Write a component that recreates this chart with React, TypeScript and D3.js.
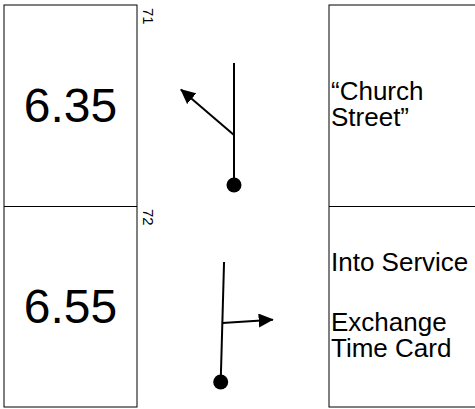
import React from "react";
import * as d3 from "d3";

// ---- data ----
const rowIds = ["71", "72"];
const times = ["6.35", "6.55"];
const notes: string[][] = [
  ["\u201CChurch", "Street\u201D"],
  ["Into Service", "", "Exchange", "Time Card"],
];
// signal arm direction (degrees, screen coords, 0 = right, negative = up)
const armAngles = [-139.4, -3.8];
const armLengths = [70, 50.7];
const armHeights = [50, 59]; // arm junction height above the post base
const postTilts = [0, 1.6]; // degrees, lean of the post to the right
const postLengths = [122, 120];

const W = 475;
const H = 409;
const FONT = "'Liberation Sans', Arial, Helvetica, sans-serif";

export default function App() {
  const y = d3.scaleBand<string>().domain(rowIds).range([5, 407]).padding(0);
  const bw = y.bandwidth();
  const leftBox = { x0: 4, x1: 137 };
  const rightBox = { x0: 329, x1: 480 };
  const postX = d3.scaleOrdinal<string, number>().domain(rowIds).range([234, 220.7]);
  const baseOffset = d3.scaleOrdinal<string, number>().domain(rowIds).range([180, 176]);

  const lineH = 26;
  const blankH = 60;
  const rad = Math.PI / 180;

  return (
    <svg
      width={W}
      height={H}
      style={{ position: "absolute", left: 0, top: 0, background: "#fff" }}
      fontFamily={FONT}
    >
      <defs>
        <marker
          id="arrow"
          viewBox="0 0 10 10"
          refX="9.5"
          refY="5"
          markerWidth="15"
          markerHeight="14"
          markerUnits="userSpaceOnUse"
          orient="auto"
          preserveAspectRatio="none"
        >
          <path d="M0,0 L10,5 L0,10 Z" fill="#000" />
        </marker>
      </defs>

      {/* boxes */}
      <rect
        x={leftBox.x0}
        y={y.range()[0]}
        width={leftBox.x1 - leftBox.x0}
        height={y.range()[1] - y.range()[0]}
        fill="none"
        stroke="#000"
        strokeWidth={1}
      />
      <rect
        x={rightBox.x0}
        y={y.range()[0]}
        width={rightBox.x1 - rightBox.x0}
        height={y.range()[1] - y.range()[0]}
        fill="none"
        stroke="#000"
        strokeWidth={1}
      />
      {rowIds.slice(1).map((id) => (
        <g key={"div" + id}>
          <line x1={leftBox.x0} x2={leftBox.x1} y1={y(id)! + 0.5} y2={y(id)! + 0.5} stroke="#000" />
          <line x1={rightBox.x0} x2={rightBox.x1} y1={y(id)! + 0.5} y2={y(id)! + 0.5} stroke="#000" />
        </g>
      ))}

      {rowIds.map((id, i) => {
        const top = y(id)!;
        const cy = top + bw / 2;
        const bx = postX(id);
        const by = top + baseOffset(id);
        const tilt = postTilts[i] * rad;
        const tx = bx + Math.sin(tilt) * postLengths[i];
        const ty = by - Math.cos(tilt) * postLengths[i];
        const jx = bx + Math.sin(tilt) * armHeights[i];
        const jy = by - Math.cos(tilt) * armHeights[i];
        const a = armAngles[i] * rad;
        const ax = jx + Math.cos(a) * armLengths[i];
        const ay = jy + Math.sin(a) * armLengths[i];
        const lines = notes[i];
        const offsets: number[] = [];
        let acc = 0;
        lines.forEach((t, k) => {
          if (k > 0) acc += t === "" || lines[k - 1] === "" ? blankH / 2 : lineH;
          offsets.push(acc);
        });
        const span = acc;
        const firstBase = cy + 7.5 - span / 2;
        return (
          <g key={id}>
            {/* time */}
            <text
              x={(leftBox.x0 + leftBox.x1) / 2}
              y={cy + 16.5}
              textAnchor="middle"
              fontSize={48}
              fill="#000"
            >
              {times[i]}
            </text>
            {/* row number, rotated */}
            <text
              transform={`translate(${leftBox.x1 + 6},${top + 3}) rotate(90)`}
              fontSize={15}
              fill="#000"
            >
              {id}
            </text>
            {/* signal */}
            <line x1={bx} y1={by} x2={tx} y2={ty} stroke="#000" strokeWidth={2} />
            <line
              x1={jx}
              y1={jy}
              x2={ax}
              y2={ay}
              stroke="#000"
              strokeWidth={2}
              markerEnd="url(#arrow)"
            />
            <circle cx={bx} cy={by} r={7.5} fill="#000" />
            {/* notes */}
            {lines.map((t, k) =>
              t ? (
                <text
                  key={k}
                  x={rightBox.x0 + 2}
                  y={firstBase + offsets[k]}
                  fontSize={26}
                  fill="#000"
                >
                  {t}
                </text>
              ) : null
            )}
          </g>
        );
      })}
    </svg>
  );
}
